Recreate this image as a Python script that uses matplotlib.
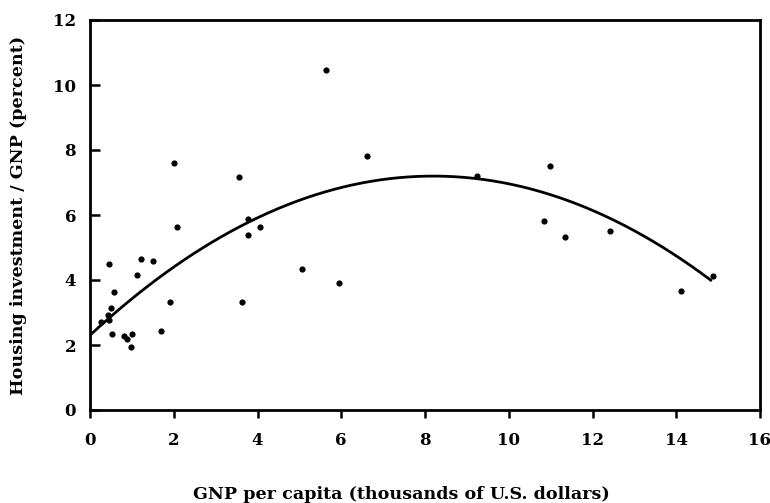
import numpy as np
import matplotlib
matplotlib.use("Agg")
import matplotlib.pyplot as plt

# GNP per capita (thousands of US$) and housing investment share (% of GNP)
gnp = [0.26, 0.43, 0.45, 0.46, 0.51, 0.53, 0.58, 0.80, 0.89, 0.98, 1.01,
       1.13, 1.21, 1.50, 1.70, 1.92, 2.01, 2.07, 3.55, 3.63, 3.77, 3.78,
       4.07, 5.06, 5.64, 5.94, 6.61, 9.23, 10.83, 10.99, 11.34, 12.42,
       14.12, 14.87]
housing = [2.72, 2.92, 2.77, 4.50, 3.15, 2.34, 3.64, 2.27, 2.18, 1.94, 2.34,
           4.15, 4.64, 4.58, 2.43, 3.32, 7.60, 5.62, 7.18, 3.32, 5.87, 5.38,
           5.64, 4.34, 10.47, 3.91, 7.83, 7.21, 5.82, 7.51, 5.32, 5.52,
           3.65, 4.12]

# Fitted quadratic: y = c0 + c1*x + c2*x^2
fit_coef = [2.30, 1.195, -0.0729]
fit_range = [0.0, 14.85]

xticks = [0, 2, 4, 6, 8, 10, 12, 14, 16]
yticks = [0, 2, 4, 6, 8, 10, 12]

plt.rcParams['font.family'] = ['DejaVu Serif']
plt.rcParams['font.weight'] = 'bold'

fig = plt.figure(figsize=(7.70, 5.03), dpi=100)
ax = fig.add_axes([90/770, (503-410)/503, (760-90)/770, (410-20)/503])

xf = np.linspace(fit_range[0], fit_range[1], 200)
yf = fit_coef[0] + fit_coef[1]*xf + fit_coef[2]*xf**2
ax.plot(xf, yf, color='black', lw=2.0, solid_capstyle='butt')
ax.scatter(gnp, housing, s=20, color='black', zorder=3, linewidths=0)

ax.set_xlim(0, 16)
ax.set_ylim(0, 12)
ax.set_xticks(xticks)
ax.set_yticks(yticks)
ax.tick_params(axis='x', direction='out', length=6, width=1.8, pad=10, labelsize=12)
ax.tick_params(axis='y', direction='in', length=7, width=1.8, pad=10, labelsize=12)
for lab in ax.get_xticklabels() + ax.get_yticklabels():
    lab.set_fontweight('bold')
for s in ax.spines.values():
    s.set_linewidth(2.0)

ax.set_xlabel('GNP per capita (thousands of U.S. dollars)', fontsize=12.6,
              fontweight='bold', va='baseline')
ax.xaxis.set_label_coords(0.464, -0.228)
ax.set_ylabel('Housing investment / GNP (percent)', fontsize=12.6,
              fontweight='bold', va='center')
ax.yaxis.set_label_coords(-0.106, 0.5)

fig.savefig('out.png', dpi=100)
